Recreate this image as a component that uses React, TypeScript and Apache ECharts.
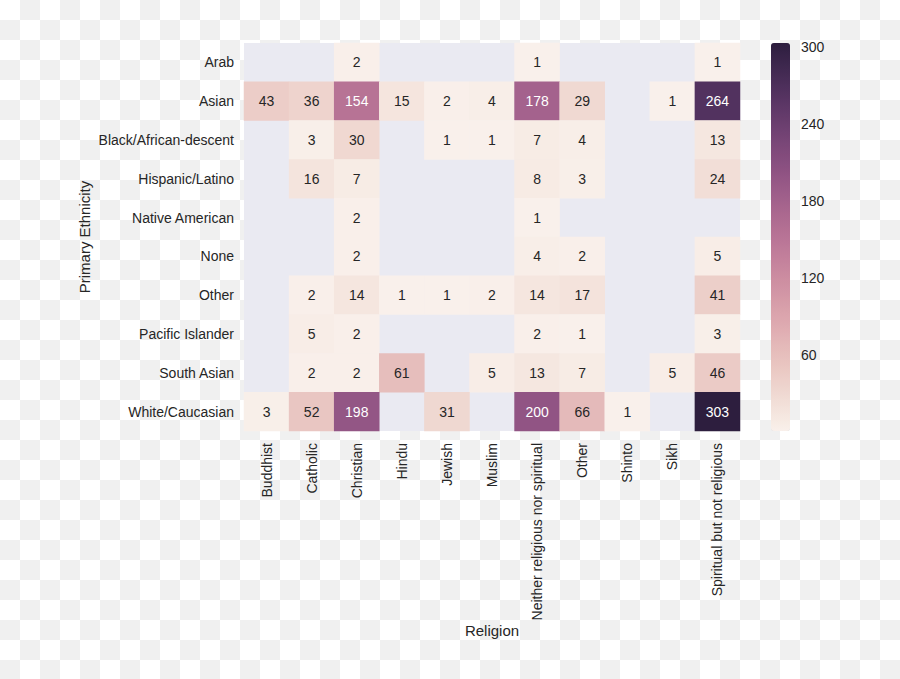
import React, { useEffect, useRef } from "react";
import * as echarts from "echarts";

const religions = [
  "Buddhist",
  "Catholic",
  "Christian",
  "Hindu",
  "Jewish",
  "Muslim",
  "Neither religious nor spiritual",
  "Other",
  "Shinto",
  "Sikh",
  "Spiritual but not religious",
];

const ethnicities = [
  "Arab",
  "Asian",
  "Black/African-descent",
  "Hispanic/Latino",
  "Native American",
  "None",
  "Other",
  "Pacific Islander",
  "South Asian",
  "White/Caucasian",
];

// rows follow ethnicities, columns follow religions; null = no respondents
const rowArab = [null, null, 2, null, null, null, 1, null, null, null, 1];
const rowAsian = [43, 36, 154, 15, 2, 4, 178, 29, null, 1, 264];
const rowBlack = [null, 3, 30, null, 1, 1, 7, 4, null, null, 13];
const rowHispanic = [null, 16, 7, null, null, null, 8, 3, null, null, 24];
const rowNative = [null, null, 2, null, null, null, 1, null, null, null, null];
const rowNone = [null, null, 2, null, null, null, 4, 2, null, null, 5];
const rowOther = [null, 2, 14, 1, 1, 2, 14, 17, null, null, 41];
const rowPacific = [null, 5, 2, null, null, null, 2, 1, null, null, 3];
const rowSouthAsian = [null, 2, 2, 61, null, 5, 13, 7, null, 5, 46];
const rowWhite = [3, 52, 198, null, 31, null, 200, 66, 1, null, 303];

const rows = [
  rowArab,
  rowAsian,
  rowBlack,
  rowHispanic,
  rowNative,
  rowNone,
  rowOther,
  rowPacific,
  rowSouthAsian,
  rowWhite,
];

const colorbarTicks = [60, 120, 180, 240, 300];
const vMin = 1;
const vMax = 303;

// seaborn cubehelix_palette(light=.95, dark=.15) colour function
function cubehelixRGB(x: number): number[] {
  const start = 0, rot = 0.4, hue = 0.8, gamma = 1;
  const xg = Math.pow(x, gamma);
  const a = (hue * xg * (1 - xg)) / 2;
  const phi = 2 * Math.PI * (start / 3 + rot * x);
  const c = Math.cos(phi), s = Math.sin(phi);
  const clip = (v: number) => Math.min(1, Math.max(0, v));
  return [
    clip(xg + a * (-0.14861 * c + 1.78277 * s)),
    clip(xg + a * (-0.29227 * c - 0.90649 * s)),
    clip(xg + a * (1.97294 * c)),
  ];
}
function toHex(rgb: number[]) {
  return (
    "#" +
    rgb
      .map((v) => Math.round(v * 255).toString(16).padStart(2, "0"))
      .join("")
  );
}
const light = 0.95, dark = 0.15;
function colorAt(t: number) {
  return cubehelixRGB(light + (dark - light) * t);
}
const paletteStops: string[] = [];
for (let i = 0; i < 33; i++) paletteStops.push(toHex(colorAt(i / 32)));

function luminance(rgb: number[]) {
  const lin = rgb.map((c) =>
    c <= 0.03928 ? c / 12.92 : Math.pow((c + 0.055) / 1.055, 2.4)
  );
  return 0.2126 * lin[0] + 0.7152 * lin[1] + 0.0722 * lin[2];
}

export default function App() {
  const ref = useRef<HTMLDivElement>(null);
  useEffect(() => {
    if (!ref.current) return;
    const chart = echarts.init(ref.current, undefined, { renderer: "svg" });
    const font = "'Liberation Sans', Arial, sans-serif";
    const textColor = "#262626";

    const data: any[] = [];
    rows.forEach((row, yi) => {
      row.forEach((v, xi) => {
        if (v === null) return;
        const t = (v - vMin) / (vMax - vMin);
        const lum = luminance(colorAt(Math.min(1, Math.max(0, t))));
        data.push({
          value: [xi, yi, v],
          label: { color: lum < 0.408 ? "#ffffff" : textColor },
        });
      });
    });

    chart.setOption({
      animation: false,
      backgroundColor: "transparent",
      textStyle: { fontFamily: font },
      grid: [
        {
          left: 244,
          top: 43,
          width: 496,
          height: 388,
          show: true,
          backgroundColor: "#eaeaf2",
          borderWidth: 0,
        },
        { left: 771, top: 43, width: 19, height: 388, show: false },
      ],
      xAxis: [
        {
          type: "category",
          data: religions,
          gridIndex: 0,
          axisLine: { show: false },
          axisTick: { show: false },
          splitLine: { show: false },
          axisLabel: {
            rotate: 90,
            interval: 0,
            margin: 12,
            fontSize: 14,
            color: textColor,
            fontFamily: font,
          },
          name: "Religion",
          nameLocation: "middle",
          nameGap: 192,
          nameMoveOverlap: false,
          nameTextStyle: { fontSize: 15, color: textColor, fontFamily: font },
        },
        {
          type: "value",
          gridIndex: 1,
          show: false,
        },
      ],
      yAxis: [
        {
          type: "category",
          data: ethnicities,
          inverse: true,
          gridIndex: 0,
          axisLine: { show: false },
          axisTick: { show: false },
          splitLine: { show: false },
          axisLabel: {
            interval: 0,
            margin: 10,
            fontSize: 14,
            color: textColor,
            fontFamily: font,
          },
          name: "Primary Ethnicity",
          nameLocation: "middle",
          nameGap: 152,
          nameMoveOverlap: false,
          nameTextStyle: { fontSize: 15, color: textColor, fontFamily: font },
        },
        {
          type: "value",
          gridIndex: 1,
          position: "right",
          min: vMin,
          max: vMax,
          axisLine: { show: false },
          axisTick: { show: false },
          splitLine: { show: false },
          axisLabel: {
            customValues: colorbarTicks,
            margin: 11,
            fontSize: 14,
            color: textColor,
            fontFamily: font,
          },
        },
      ],
      visualMap: {
        type: "continuous",
        seriesIndex: 0,
        min: vMin,
        max: vMax,
        calculable: false,
        left: 771,
        top: 43,
        padding: 0,
        itemWidth: 19,
        itemHeight: 388,
        text: null,
        inRange: { color: paletteStops },
      },
      series: [
        {
          type: "heatmap",
          xAxisIndex: 0,
          yAxisIndex: 0,
          data,
          label: {
            show: true,
            fontSize: 14,
            fontFamily: font,
            color: textColor,
          },
          itemStyle: { borderWidth: 0 },
          emphasis: { disabled: true },
        },
      ],
    });
    return () => chart.dispose();
  }, []);

  return (
    <div
      style={{
        position: "absolute",
        left: 0,
        top: 0,
        width: 900,
        height: 679,
        backgroundColor: "#ffffff",
        backgroundImage:
          "conic-gradient(#f0f0f0 0 25%, transparent 0 50%, #f0f0f0 0 75%, transparent 0)",
        backgroundSize: "40px 40px",
      }}
    >
      <div ref={ref} style={{ width: 900, height: 679 }} />
    </div>
  );
}
